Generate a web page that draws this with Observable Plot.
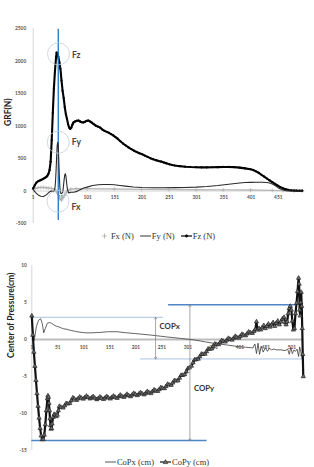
<!DOCTYPE html>
<html>
<head>
<meta charset="utf-8">
<script src="https://cdn.jsdelivr.net/npm/d3@7"></script>
<script src="https://cdn.jsdelivr.net/npm/@observablehq/plot@0.6"></script>
<style>
  body { margin: 0; background: #fff; }
  #page { position: relative; width: 314px; height: 467px; overflow: hidden; }
  .fig { position: absolute; left: 0; }
  .legend { position: absolute; left: 0; width: 314px; height: 12px; display: flex; justify-content: center; align-items: center; gap: 6px;
            font-family: "Liberation Serif", serif; font-size: 8.5px; color: #333; white-space: nowrap; }
  .legend span { display: inline-flex; align-items: center; gap: 1px; }
</style>
</head>
<body>
<div id="page"></div>
<script>
// ---- Ground reaction force (N) by frame: [frame, value] ----
const fz = [[1,40],[4,90],[7,130],[10,150],[13,160],[16,172],[19,185],[22,200],[25,215],[27,235],[29,265],[31,320],[33,450],[35,780],[37,1200],[39,1580],[41,1850],[43,2060],[44,2130],[45,2120],[47,2070],[49,1980],[51,1880],[53,1700],[55,1540],[57,1430],[59,1290],[61,1180],[63,1110],[65,1030],[67,975],[69,955],[71,975],[73,1020],[75,1055],[78,1070],[81,1080],[84,1085],[87,1070],[90,1058],[93,1055],[96,1065],[99,1078],[102,1085],[105,1072],[108,1055],[112,1030],[116,1005],[120,990],[124,975],[128,945],[132,925],[136,910],[140,895],[144,875],[148,855],[152,830],[156,805],[161,765],[166,730],[171,700],[176,670],[181,645],[186,620],[191,600],[196,580],[201,565],[206,545],[211,525],[216,505],[221,490],[226,475],[231,462],[236,452],[241,438],[246,425],[251,410],[256,400],[261,392],[270,382],[280,374],[290,369],[300,366],[310,364],[320,364],[330,365],[340,367],[350,370],[360,370],[370,367],[380,360],[390,348],[400,335],[405,322],[410,302],[415,280],[420,250],[425,222],[430,192],[435,163],[440,135],[445,108],[450,82],[455,58],[460,40],[465,26],[470,16],[475,11],[480,8],[485,6],[490,5],[495,5]];

const fy = [[1,20],[5,-20],[10,-60],[15,-80],[20,-85],[25,-60],[30,-20],[34,0],[38,-10],[40,10],[41,50],[42,150],[43,320],[44,520],[45,700],[46,750],[47,690],[48,470],[49,230],[50,60],[51,-30],[53,-40],[55,-20],[56,30],[57,110],[58,190],[59,250],[60,265],[61,230],[62,160],[63,80],[64,20],[66,-30],[68,-25],[70,-20],[75,-20],[80,-10],[85,10],[90,30],[95,50],[100,60],[110,85],[120,95],[130,100],[140,100],[150,95],[160,85],[170,75],[185,62],[200,55],[220,50],[240,50],[260,52],[280,55],[300,60],[320,70],[340,85],[360,105],[380,122],[390,130],[400,133],[410,134],[420,135],[430,130],[435,122],[440,108],[445,85],[450,55],[455,30],[460,15],[465,5],[470,2],[495,0]];

const fx = [[1,30],[5,40],[10,50],[15,55],[20,55],[25,50],[30,45],[35,40],[40,25],[43,0],[46,-40],[50,-120],[53,-140],[56,-100],[59,-60],[62,-20],[65,10],[70,30],[80,35],[100,35],[150,30],[200,25],[250,22],[300,20],[350,18],[400,15],[440,10],[460,5],[480,2],[495,0]];

// ---- Centre of pressure (cm) by frame: [frame, value] ----
const copx = [[1,3.0],[3,1.0],[5,-0.2],[7,0.5],[10,1.8],[14,2.6],[18,2.8],[21,2.2],[24,0.9],[27,1.5],[31,2.2],[35,2.3],[39,2.2],[43,2.0],[48,1.8],[53,1.7],[58,1.55],[62,1.45],[67,1.4],[72,1.3],[78,1.2],[85,1.1],[92,1.0],[98,0.95],[105,0.9],[117,0.9],[130,0.95],[148,1.05],[165,1.05],[181,0.92],[200,0.8],[215,0.7],[229,0.6],[248,0.45],[260,0.35],[273,0.25],[287,0.15],[300,0.05],[312,-0.05],[325,-0.2],[337,-0.35],[350,-0.5],[363,-0.62],[377,-0.75],[390,-0.88],[402,-1.0],[412,-1.05],[421,-1.1],[426,-1.15],[430,-0.6],[433,-1.9],[436,-0.5],[439,-2.0],[442,-0.9],[446,-1.7],[450,-1.1],[454,-1.6],[458,-1.2],[462,-1.4],[466,-1.3],[472,-1.4],[480,-1.4],[488,-1.5],[493,-1.3],[496,-2.0],[499,-1.1],[502,-1.9],[505,-1.4],[508,-1.6],[511,-1.3],[514,-2.3],[516,-1.0],[518,-1.6],[521,-2.6]];

const copy = [[1,3.2],[3,0.6],[5,-1.7],[7,-3.6],[9,-5.5],[11,-7.3],[13,-9.0],[15,-10.6],[17,-12.0],[19,-13.0],[21,-13.5],[23,-13.5],[25,-12.9],[27,-11.5],[29,-9.6],[31,-8.0],[32,-7.6],[33,-7.8],[34,-8.6],[35,-9.6],[36,-10.7],[37,-11.6],[38,-12.1],[39,-12.0],[40,-11.4],[42,-10.5],[44,-10.1],[46,-10.2],[48,-10.4],[50,-10.2],[52,-9.6],
  [54,-9.02],[57,-9.15],[61,-9.24],[64,-8.95],[67,-8.64],[70,-8.7],[74,-8.62],[77,-8.25],[80,-7.87],[83,-8.03],[87,-8.2],[90,-8.0],[93,-7.77],[96,-7.9],[100,-8.03],[103,-7.84],[106,-7.64],[109,-7.8],[113,-8.01],[116,-7.86],[119,-7.71],[122,-7.91],[126,-8.11],[129,-7.95],[132,-7.76],[135,-7.92],[139,-8.08],[142,-7.89],[145,-7.69],[148,-7.86],[152,-8.02],[155,-7.82],[158,-7.63],[161,-7.79],[165,-7.93],[168,-7.72],[171,-7.51],[174,-7.66],[178,-7.8],[181,-7.6],[184,-7.4],[187,-7.56],[191,-7.71],[194,-7.49],[197,-7.27],[200,-7.4],[204,-7.56],[207,-7.36],[210,-7.17],[213,-7.32],[217,-7.46],[220,-7.25],[223,-7.02],[226,-7.16],[230,-7.28],[233,-7.04],[236,-6.8],[239,-6.92],[243,-7.0],[246,-6.75],[249,-6.5],[252,-6.58],[256,-6.62],[259,-6.34],[262,-6.05],[265,-6.13],[269,-6.17],[272,-5.86],[275,-5.55],[278,-5.59],[282,-5.56],[285,-5.2],[288,-4.84],[291,-4.83],[295,-4.73],[298,-4.34],[301,-3.92],[304,-3.8],[308,-3.58],[311,-3.13],[314,-2.74],[317,-2.71],[321,-2.63],[324,-2.3],[327,-1.97],[330,-2.0],[334,-1.96],[337,-1.62],[340,-1.27],[343,-1.29],[347,-1.25],[350,-0.9],[353,-0.6],[356,-0.66],[360,-0.68],[363,-0.41],[366,-0.14],[369,-0.23],[373,-0.32],[376,-0.08],[379,0.16],[382,0.04],[386,-0.06],[389,0.18],[392,0.42],[395,0.3],[399,0.2],[402,0.45],[405,0.71],[408,0.6],[412,0.52],[415,0.78],[418,1.03],[421,0.93],[425,0.85],[428,1.1],[431,1.35],
  [433,2.4],[435,1.3],[438,1.5],[441,1.3],[444,1.6],[447,1.9],[450,1.5],[453,1.8],[456,2.1],[459,1.7],[462,2.0],[465,2.3],[468,1.8],[471,2.2],[474,2.5],[477,2.0],[480,2.4],[483,2.8],[486,3.0],[488,2.3],[490,2.0],[492,2.4],[494,3.5],[496,4.2],[498,4.5],[500,4.0],[502,2.5],[504,1.3],[506,1.5],[508,3.5],[510,4.9],[512,6.5],[514,8.3],[515,7.5],[516,4.0],[517,3.2],[518,5.0],[519,6.4],[520,4.5],[521,1.5],[522,-2.0],[523,-5.0]];

// ---- Axis ticks ----
const grfTicks = [-500, 0, 500, 1000, 1500, 2000, 2500];
const grfFrameTicks = [1, 51, 101, 151, 201, 251, 301, 351, 401, 451];
const copTicks = [-15, -10, -5, 0, 5, 10];
const copFrameTicks = [1, 51, 101, 151, 201, 251, 301, 351, 401, 451, 501];

// ---- Annotations (data units) ----
const heelStrike = [{frame: 47, lo: -455, hi: 2490}];
const peakMarks = [
  {name: "Fz", frame: 47.5, v: 2110, labelV: 2085},
  {name: "Fy", frame: 47, v: 750, labelV: 746},
  {name: "Fx", frame: 46.5, v: -158, labelV: -250}
];
const copxBounds = [{v: 3.0, from: 1, to: 254}, {v: -2.63, from: 210, to: 524}];
const copyBounds = [{v: 4.7, from: 264, to: 508}, {v: -13.65, from: 1, to: 338}];
const copxSpan = {frame: 239, top: 3.0, bottom: -2.63, labelV: 1.76};
const copySpan = {frame: 305, top: 4.7, bottom: -13.65, labelV: -6.58};

const rows = a => a.map(([frame, v]) => ({frame, v}));
const tickFont = {fontSize: 4.8, fontWeight: "bold"};
const baseStyle = {fontFamily: "Lato, 'Open Sans', sans-serif", color: "#555", background: "none", overflow: "visible"};

// ---- Ground reaction force chart ----
const grf = Plot.plot({
  width: 314, height: 228,
  marginLeft: 32.7, marginRight: 11.7, marginTop: 28, marginBottom: 5,
  x: {domain: [1, 496], axis: null},
  y: {domain: [-500, 2500]},
  style: baseStyle,
  marks: [
    Plot.ruleX([1], {stroke: "#cccccc", strokeWidth: 0.8}),
    Plot.ruleY([0], {stroke: "#c8c8c8", strokeWidth: 0.8}),
    Plot.axisY({ticks: grfTicks, tickSize: 0, tickPadding: 7, tickFormat: d => String(d), label: null, ...tickFont}),
    Plot.text(grfFrameTicks, {x: d => d, y: d => 0, text: d => String(d), dy: 6.5, fill: "#555", ...tickFont}),
    Plot.line(rows(fx), {x: "frame", y: "v", stroke: "#b8b8b8", strokeWidth: 1.4}),
    Plot.dot(rows(fx), {x: "frame", y: "v", symbol: "plus", r: 1.4, stroke: "#b0b0b0", strokeWidth: 0.7}),
    Plot.line(rows(fz), {x: "frame", y: "v", stroke: "#000", strokeWidth: 2.1}),
    Plot.dot(rows(fz), {x: "frame", y: "v", r: 1.1, fill: "#000"}),
    Plot.ruleX(heelStrike, {x: "frame", y1: "lo", y2: "hi", stroke: "#1f75c4", strokeWidth: 1.3}),
    Plot.line(rows(fy), {x: "frame", y: "v", stroke: "#2a2a2a", strokeWidth: 1.1}),
    Plot.dot(peakMarks, {x: "frame", y: "v", r: 11, stroke: "#c4ceda", strokeWidth: 0.8, fill: "none"}),
    Plot.text(peakMarks, {x: "frame", y: "labelV", text: "name", dx: 13.5, textAnchor: "start", fontSize: 8.5, fontWeight: "bold", fill: "#444"}),
    Plot.text(["GRF(N)"], {frameAnchor: "left", dx: -24.5, rotate: -90, text: d => d, fontSize: 8.5, fontWeight: "bold", fill: "#222"})
  ]
});

// ---- Centre of pressure chart ----
const cop = Plot.plot({
  width: 314, height: 205,
  marginLeft: 31.3, marginRight: 10.7, marginTop: 15, marginBottom: 5,
  x: {domain: [1, 524], axis: null},
  y: {domain: [-15, 10]},
  style: baseStyle,
  marks: [
    Plot.ruleX([1], {stroke: "#cccccc", strokeWidth: 0.8}),
    Plot.ruleY([0], {stroke: "#bdbdbd", strokeWidth: 2}),
    Plot.axisY({ticks: copTicks, tickSize: 0, tickPadding: 5, tickFormat: d => String(d), label: null, ...tickFont}),
    Plot.text(copFrameTicks, {x: d => d, y: d => 0, text: d => String(d), dy: 8, fill: "#555", ...tickFont}),
    Plot.ruleY(copxBounds, {y: "v", x1: "from", x2: "to", stroke: "#a8c4e4", strokeWidth: 1}),
    Plot.ruleY(copyBounds, {y: "v", x1: "from", x2: "to", stroke: "#4f86c6", strokeWidth: 1.4}),
    Plot.line(rows(copx), {x: "frame", y: "v", stroke: "#3c3c3c", strokeWidth: 0.8}),
    Plot.line(rows(copy), {x: "frame", y: "v", stroke: "#111", strokeWidth: 2.2}),
    Plot.dot(rows(copy), {x: "frame", y: "v", symbol: "triangle", r: 1.6, stroke: "#1a1a1a", strokeWidth: 0.6, fill: "#6e6e6e"}),
    ...[copxSpan, copySpan].map(s => {
      const mid = (s.top + s.bottom) / 2;
      const ends = [{f: s.frame, a: mid, b: s.top}, {f: s.frame, a: mid, b: s.bottom}];
      return Plot.arrow(ends, {x1: "f", x2: "f", y1: "a", y2: "b", stroke: "#808080", strokeWidth: 0.7, headLength: 4, bend: 0});
    }),
    Plot.text([{...copxSpan, name: "COPx"}, {...copySpan, name: "COPy"}], {x: "frame", y: "labelV", text: "name", dx: 4, textAnchor: "start", fontSize: 7.8, fontWeight: "bold", fill: "#333"}),
    Plot.text(["Center of Pressure(cm)"], {frameAnchor: "left", dx: -20.3, rotate: -90, text: d => d, fontSize: 8.5, fontWeight: "bold", fill: "#222"})
  ]
});

// ---- Page assembly ----
const page = document.getElementById("page");
function place(el, top) { el.classList.add("fig"); el.style.top = top + "px"; page.appendChild(el); }
place(grf, 0);
place(cop, 250);

function swatch(color, width, symbol) {
  const s = d3.create("svg").attr("width", 11).attr("height", 8);
  s.append("line").attr("x1", 0).attr("x2", 11).attr("y1", 4).attr("y2", 4).attr("stroke", color).attr("stroke-width", width);
  if (symbol === "dot") s.append("circle").attr("cx", 5.5).attr("cy", 4).attr("r", 1.4).attr("fill", color);
  if (symbol === "plus") s.append("path").attr("d", "M5.5,1.5V6.5M3,4H8").attr("stroke", color).attr("stroke-width", 0.8);
  if (symbol === "triangle") s.append("path").attr("d", "M5.5,1.6L7.8,5.6H3.2Z").attr("stroke", "#222").attr("stroke-width", 0.6).attr("fill", "#6e6e6e");
  return s.node();
}
function legend(items, top) {
  const div = document.createElement("div");
  div.className = "legend";
  div.style.top = top + "px";
  for (const it of items) {
    const span = document.createElement("span");
    span.appendChild(swatch(it.color, it.width, it.symbol));
    span.appendChild(document.createTextNode(it.label));
    div.appendChild(span);
  }
  page.appendChild(div);
}
legend([
  {label: "Fx (N)", color: "#aaaaaa", width: 0, symbol: "plus"},
  {label: "Fy (N)", color: "#333", width: 1},
  {label: "Fz (N)", color: "#000", width: 1.2, symbol: "dot"}
], 230);
legend([
  {label: "CoPx (cm)", color: "#444", width: 0.9},
  {label: "CoPy (cm)", color: "#111", width: 1.2, symbol: "triangle"}
], 456);
</script>
</body>
</html>
